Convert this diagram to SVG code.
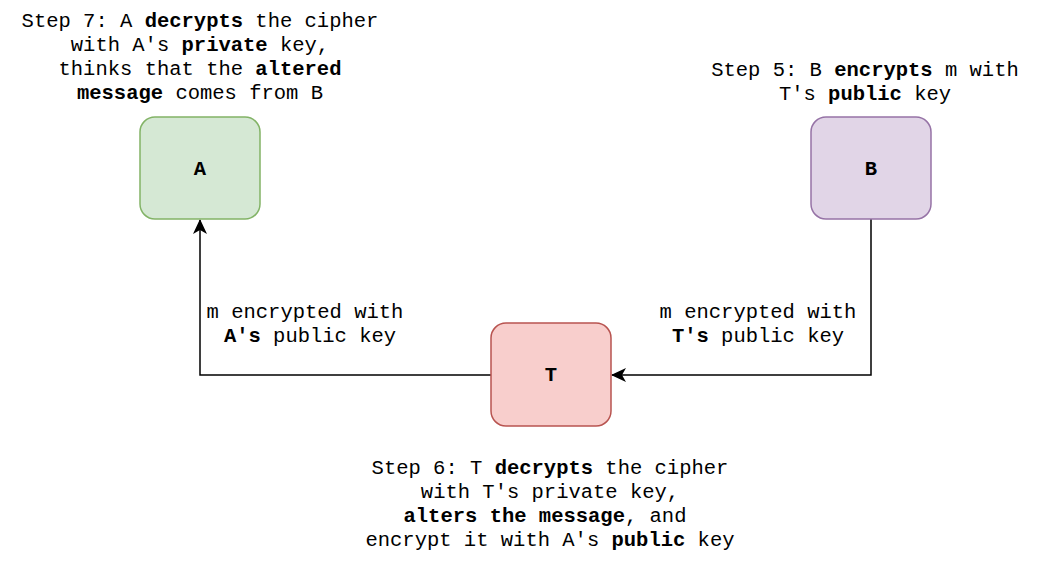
<svg xmlns="http://www.w3.org/2000/svg" width="1056" height="586" viewBox="0 0 1056 586">
<defs>
<style>
text{font-family:"Liberation Mono","Courier New",monospace;font-size:20.5px;fill:#000;text-anchor:middle}
.b{font-weight:bold}
.node{stroke-width:1.5}
.edge{fill:none;stroke:#000;stroke-width:1.5}
</style>
<marker id="arr" viewBox="0 0 15 14" refX="14" refY="7" markerWidth="15" markerHeight="14" markerUnits="userSpaceOnUse" orient="auto">
<path d="M0,0 L15,7 L0,14 L4,7 Z" fill="#000"/>
</marker>
</defs>
<rect width="1056" height="586" fill="#fff"/>
<g id="connectors">
<path class="edge" d="M871,219 V375 H612" marker-end="url(#arr)"/>
<path class="edge" d="M491,375 H200 V220" marker-end="url(#arr)"/>
<text x="305" y="318">m encrypted with</text>
<text x="310" y="342"><tspan class="b">A's</tspan> public key</text>
<text x="758" y="318">m encrypted with</text>
<text x="758" y="342"><tspan class="b">T's</tspan> public key</text>
</g>
<g id="node-A">
<rect class="node" x="140" y="117" width="120" height="102" rx="15" fill="#d5e8d4" stroke="#82b366"/>
<text class="b" x="200" y="175">A</text>
</g>
<g id="node-B">
<rect class="node" x="811" y="117" width="120" height="102" rx="15" fill="#e1d5e7" stroke="#9673a6"/>
<text class="b" x="871" y="175">B</text>
</g>
<g id="node-T">
<rect class="node" x="491" y="323" width="120" height="103" rx="15" fill="#f8cecc" stroke="#b85450"/>
<text class="b" x="551" y="381">T</text>
</g>
<g id="label-step7">
<text x="200" y="27">Step 7: A <tspan class="b">decrypts</tspan> the cipher</text>
<text x="200" y="51">with A's <tspan class="b">private</tspan> key,</text>
<text x="200" y="75">thinks that the <tspan class="b">altered</tspan></text>
<text x="200" y="99"><tspan class="b">message</tspan> comes from B</text>
</g>
<g id="label-step5">
<text x="865" y="76">Step 5: B <tspan class="b">encrypts</tspan> m with</text>
<text x="865" y="100">T's <tspan class="b">public</tspan> key</text>
</g>
<g id="label-step6">
<text x="550" y="474">Step 6: T <tspan class="b">decrypts</tspan> the cipher</text>
<text x="550" y="498">with T's private key,</text>
<text x="545" y="522"><tspan class="b">alters the message</tspan>, and</text>
<text x="550" y="546">encrypt it with A's <tspan class="b">public</tspan> key</text>
</g>
</svg>
